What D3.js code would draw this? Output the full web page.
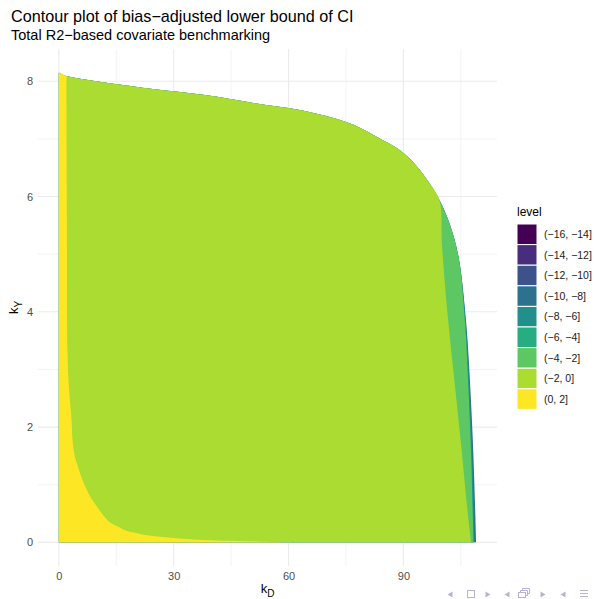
<!DOCTYPE html>
<html>
<head>
<meta charset="utf-8">
<script src="https://cdn.jsdelivr.net/npm/d3@7"></script>
<style>
  body { margin: 0; background: #fff; }
  text { font-family: "Liberation Sans", Arial, sans-serif; }
</style>
</head>
<body>
<div id="chart"></div>
<script>
// level bands, viridis palette as in the legend
const levels = ['(\u221216, \u221214]', '(\u221214, \u221212]', '(\u221212, \u221210]', '(\u221210, \u22128]',
  '(\u22128, \u22126]', '(\u22126, \u22124]', '(\u22124, \u22122]', '(\u22122, 0]', '(0, 2]'];
const levelColors = ['#440154', '#472D7B', '#3B528B', '#2C728E', '#21908C', '#27AD81', '#5DC863', '#AADC32', '#FDE725'];

// outer edge of the region (kD, kY)
const outerEdge = [[0, 8.15], [2, 8.09], [7.6, 8.02], [25, 7.86], [38.1, 7.76], [51.1, 7.62], [62.9, 7.5],
  [75.9, 7.27], [84.5, 6.98], [88.9, 6.81], [93.4, 6.53], [96.8, 6.23], [99.4, 5.94], [102, 5.54],
  [104.4, 4.95], [106.4, 3.81], [107.5, 2.65], [108.3, 1.49], [109, 0]];
// thin dark slivers on the right edge
const tealEdge = [[104.4, 4.95], [106.3, 3.81], [107.3, 2.65], [108.0, 1.49], [108.6, 0]];
const midGreenEdge = [[104.4, 4.95], [106.1, 3.81], [107.0, 2.65], [107.7, 1.49], [108.3, 0]];
// boundary between (-4,-2] and (-2,0]
const lightGreenEdge = [[99.4, 5.94], [100.1, 5.13], [101.5, 3.98], [103.3, 2.82], [105.1, 1.67], [106.8, 0.52], [107.7, 0]];
// boundary between (-2,0] and (0,2]
const yellowEdge = [[2.0, 8.09], [2.0, 7.3], [2.1, 5.5], [2.27, 3.29], [2.61, 2.71], [3.31, 2.13], [3.57, 1.78],
  [4.17, 1.49], [4.8, 1.35], [5.48, 1.21], [6.3, 1.06], [7.23, 0.92], [8.4, 0.77], [9.84, 0.63], [11.5, 0.48],
  [13.3, 0.35], [15.5, 0.27], [17.7, 0.2], [21, 0.15], [24.5, 0.11], [30, 0.075], [35, 0.05], [48, 0.02], [61, 0]];

const xTicks = [0, 30, 60, 90];
const xMinor = [15, 45, 75, 105];
const yTicks = [0, 2, 4, 6, 8];
const yMinor = [1, 3, 5, 7];

const W = 594, H = 599;
const panel = { left: 38, right: 497, top: 49, bottom: 566 };

const svg = d3.select('#chart').append('svg')
  .attr('width', W)
  .attr('height', H);

const x = d3.scaleLinear().domain([-5.45, 114.45]).range([panel.left, panel.right]);
const y = d3.scaleLinear().domain([-0.41, 8.56]).range([panel.bottom, panel.top]);

// grid
const grid = svg.append('g');
grid.selectAll('.xminor').data(xMinor).join('line')
  .attr('x1', d => x(d)).attr('x2', d => x(d))
  .attr('y1', panel.top).attr('y2', panel.bottom)
  .attr('stroke', '#ebebeb').attr('stroke-width', 0.6);
grid.selectAll('.yminor').data(yMinor).join('line')
  .attr('y1', d => y(d)).attr('y2', d => y(d))
  .attr('x1', panel.left).attr('x2', panel.right)
  .attr('stroke', '#ebebeb').attr('stroke-width', 0.6);
grid.selectAll('.xmajor').data(xTicks).join('line')
  .attr('x1', d => x(d)).attr('x2', d => x(d))
  .attr('y1', panel.top).attr('y2', panel.bottom)
  .attr('stroke', '#ebebeb').attr('stroke-width', 1.1);
grid.selectAll('.ymajor').data(yTicks).join('line')
  .attr('y1', d => y(d)).attr('y2', d => y(d))
  .attr('x1', panel.left).attr('x2', panel.right)
  .attr('stroke', '#ebebeb').attr('stroke-width', 1.1);

// filled bands, outermost first
const edgeLine = d3.line().x(d => x(d[0])).y(d => y(d[1])).curve(d3.curveCatmullRom.alpha(0.5));
const origin = `L${x(0)},${y(0)}Z`;

function bandPath(edge) {
  return edgeLine(edge) + origin;
}

const bands = svg.append('g');
bands.append('path').attr('d', bandPath(outerEdge)).attr('fill', levelColors[3]);
const outerTop = outerEdge.filter(d => d[0] < 104.4);
bands.append('path').attr('d', bandPath(outerTop.concat(tealEdge))).attr('fill', levelColors[4]);
bands.append('path').attr('d', bandPath(outerTop.concat(midGreenEdge))).attr('fill', levelColors[6]);
const lightTop = outerEdge.filter(d => d[0] < 99.4);
bands.append('path').attr('d', bandPath(lightTop.concat(lightGreenEdge))).attr('fill', levelColors[7]);
bands.append('path')
  .attr('d', `M${x(0)},${y(0)}L${x(outerEdge[0][0])},${y(outerEdge[0][1])}` + edgeLine(yellowEdge).replace(/^M/, 'L') + 'Z')
  .attr('fill', levelColors[8]);

// axes (labels only)
const xAxis = d3.axisBottom(x).tickValues(xTicks).tickSize(0).tickPadding(0);
svg.append('g')
  .attr('transform', `translate(0,${panel.bottom + 6})`)
  .call(xAxis)
  .call(g => g.select('.domain').remove())
  .selectAll('text')
  .attr('fill', '#4d4d4d')
  .style('font-size', '11px')
  .attr('dy', '0.71em');

const yAxis = d3.axisLeft(y).tickValues(yTicks).tickSize(0).tickPadding(0);
svg.append('g')
  .attr('transform', `translate(${panel.left - 5},0)`)
  .call(yAxis)
  .call(g => g.select('.domain').remove())
  .selectAll('text')
  .attr('fill', '#4d4d4d')
  .style('font-size', '11px');

svg.selectAll('.tick text').style('font-family', '"Liberation Sans", Arial, sans-serif');

// axis titles
const xt = svg.append('text')
  .attr('x', (panel.left + panel.right) / 2)
  .attr('y', 593)
  .attr('text-anchor', 'middle')
  .style('font-size', '13px');
xt.append('tspan').text('k');
xt.append('tspan').attr('dy', 4).style('font-size', '10px').text('D');

const yt = svg.append('text')
  .attr('transform', `translate(18,${(panel.top + panel.bottom) / 2}) rotate(-90)`)
  .attr('text-anchor', 'middle')
  .style('font-size', '13px');
yt.append('tspan').text('k');
yt.append('tspan').attr('dy', 4).style('font-size', '10px').text('Y');

// titles
svg.append('text')
  .attr('x', 11).attr('y', 22)
  .style('font-size', '16.2px')
  .text('Contour plot of bias\u2212adjusted lower bound of CI');
svg.append('text')
  .attr('x', 11).attr('y', 40)
  .style('font-size', '14.5px')
  .text('Total R2\u2212based covariate benchmarking');

// legend
const legend = svg.append('g').attr('transform', 'translate(517,224)');
legend.append('text')
  .attr('x', 0).attr('y', -8)
  .style('font-size', '12px')
  .text('level');
const keyH = 20.6;
const keys = legend.selectAll('.key').data(levels).join('g')
  .attr('transform', (d, i) => `translate(0,${i * keyH})`);
keys.append('rect')
  .attr('width', 20).attr('height', keyH)
  .attr('fill', (d, i) => levelColors[i])
  .attr('stroke', '#fff').attr('stroke-width', 1);
keys.append('text')
  .attr('x', 27).attr('y', keyH / 2)
  .attr('dy', '0.35em')
  .style('font-size', '10.5px')
  .attr('fill', '#1a1a1a')
  .text(d => d);

// beamer navigation symbols
const navColor = '#b4b4d6';
const nav = svg.append('g').attr('fill', 'none').attr('stroke', navColor).attr('stroke-width', 1);
const tri = (cx, dir) => `M${cx - 2.5 * dir},${594.5}L${cx + 2.5 * dir},${591.5}L${cx + 2.5 * dir},${597.5}Z`;
[450, 507, 563].forEach(cx => svg.append('path').attr('d', tri(cx, 1)).attr('fill', navColor));
[488, 543].forEach(cx => svg.append('path').attr('d', tri(cx, -1)).attr('fill', navColor));
nav.append('rect').attr('x', 467.5).attr('y', 590.5).attr('width', 7).attr('height', 7);
nav.append('rect').attr('x', 518.5).attr('y', 592.5).attr('width', 7).attr('height', 5);
nav.append('path').attr('d', 'M520.5,592.5V590.5H527.5V595.5H525.5M522.5,590.5V588.5H529.5V593.5H527.5');
nav.append('path').attr('d', 'M580,590.5H588M580,593.5H588M580,596.5H588');
</script>
</body>
</html>
